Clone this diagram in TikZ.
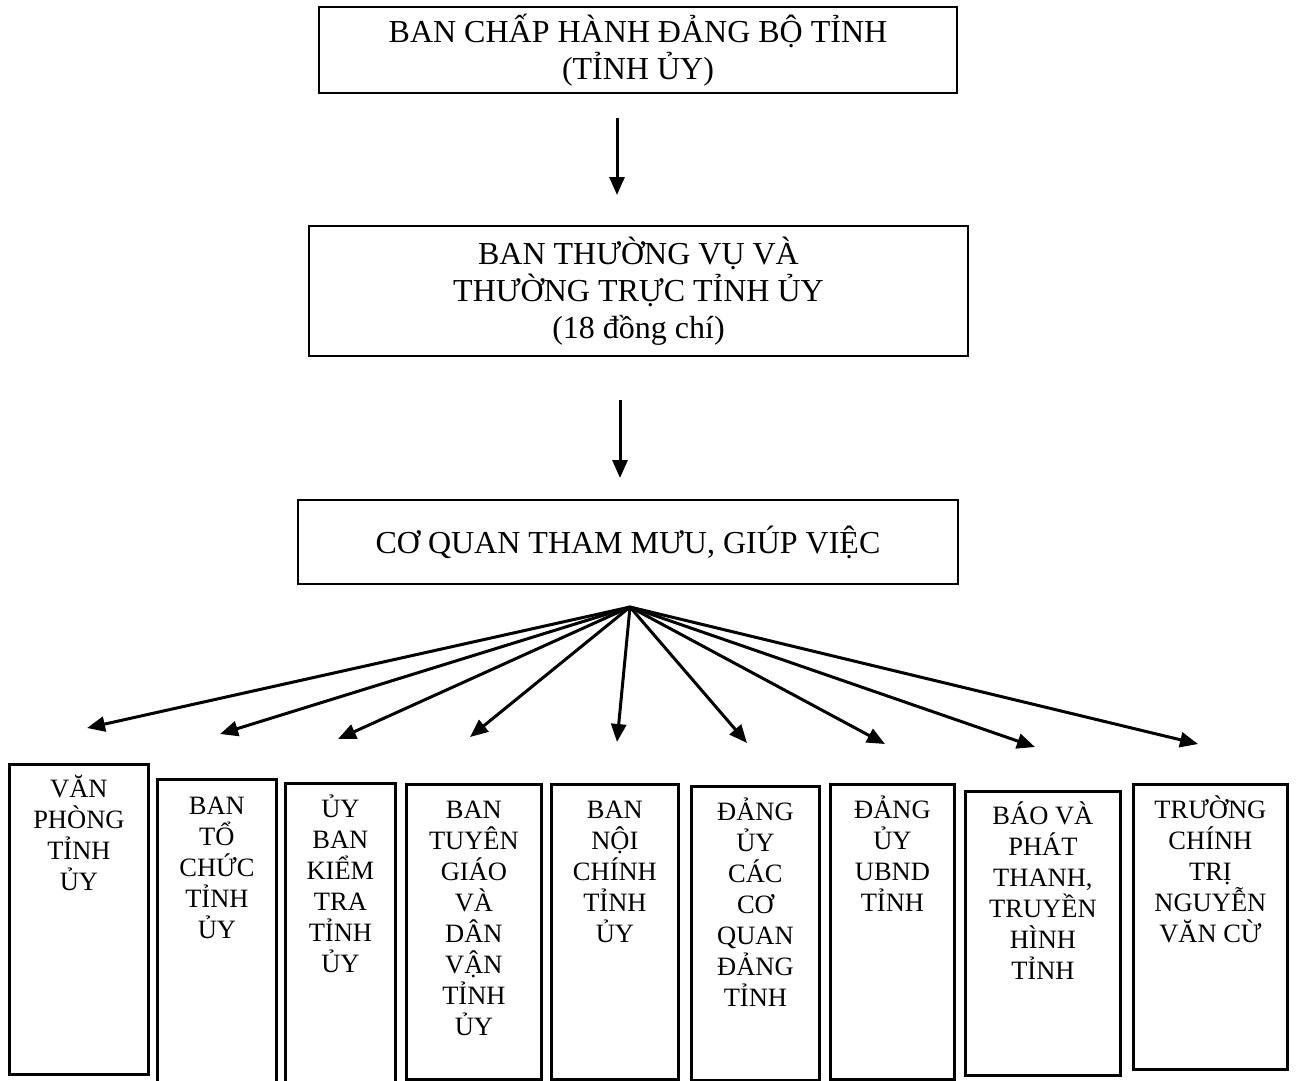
\documentclass[tikz,border=0pt]{standalone}
\usepackage{fontspec}
\setmainfont{Liberation Serif}
\usetikzlibrary{arrows.meta}
\tikzset{
  box/.style={draw, line width=2.8pt, inner sep=0pt},
  toptext/.style={align=center, font=\fontsize{32}{37}\selectfont},
  btext/.style={align=center, inner sep=0pt, font=\fontsize{26.5}{31}\selectfont},
  arr/.style={line width=3pt, -{Triangle[length=18pt,width=15pt]}}
}
\begin{document}
\begin{tikzpicture}[x=1pt,y=-1pt]
\useasboundingbox (0,0) rectangle (1298,1080);
\fill[white] (0,0) rectangle (1298,1080);

% top boxes
\node[box, toptext, minimum width=638pt, minimum height=86pt] (t1) at (638,50) {BAN CHẤP HÀNH ĐẢNG BỘ TỈNH\\(TỈNH ỦY)};
\node[box, toptext, minimum width=659pt, minimum height=130pt] (t2) at (638.5,291) {BAN THƯỜNG VỤ VÀ\\THƯỜNG TRỰC TỈNH ỦY\\(18 đồng chí)};
\node[box, toptext, minimum width=660pt, minimum height=84pt] (t3) at (628,542) {CƠ QUAN THAM MƯU, GIÚP VIỆC};

% vertical arrows
\coordinate (a1s) at (617,118);
\coordinate (a1e) at (617,195);
\draw[arr] (a1s) -- (a1e);
\coordinate (a2s) at (620,400);
\coordinate (a2e) at (620,478);
\draw[arr] (a2s) -- (a2e);

% fan
\coordinate (fan) at (630,607);
\coordinate (f1) at (87,728);
\coordinate (f2) at (220,734);
\coordinate (f3) at (338,739);
\coordinate (f4) at (470,737);
\coordinate (f5) at (617,742);
\coordinate (f6) at (747,743);
\coordinate (f7) at (885,744);
\coordinate (f8) at (1035,747);
\coordinate (f9) at (1198,744);
\foreach \i in {1,...,9} \draw[arr] (fan) -- (f\i);

% bottom boxes (text anchored at the baseline of its last line)
\node[box, anchor=north west, minimum width=139pt, minimum height=310pt] (b1) at (8,763) {};
\node[btext, anchor=base] (b1t) at ([yshift=-127pt]b1.north) {VĂN\\PHÒNG\\TỈNH\\ỦY};

\node[box, anchor=north west, minimum width=119pt, minimum height=310pt] (b2) at (156,778) {};
\node[btext, anchor=base] (b2t) at ([yshift=-160pt]b2.north) {BAN\\TỔ\\CHỨC\\TỈNH\\ỦY};

\node[box, anchor=north west, minimum width=110pt, minimum height=310pt] (b3) at (284,782) {};
\node[btext, anchor=base] (b3t) at ([yshift=-190pt]b3.north) {ỦY\\BAN\\KIỂM\\TRA\\TỈNH\\ỦY};

\node[box, anchor=north west, minimum width=135pt, minimum height=295pt] (b4) at (405,783) {};
\node[btext, anchor=base] (b4t) at ([yshift=-252pt]b4.north) {BAN\\TUYÊN\\GIÁO\\VÀ\\DÂN\\VẬN\\TỈNH\\ỦY};

\node[box, anchor=north west, minimum width=127pt, minimum height=295pt] (b5) at (550,783) {};
\node[btext, anchor=base] (b5t) at ([yshift=-159pt]b5.north) {BAN\\NỘI\\CHÍNH\\TỈNH\\ỦY};

\node[box, anchor=north west, minimum width=128pt, minimum height=294pt] (b6) at (690,785) {};
\node[btext, anchor=base] (b6t) at ([yshift=-221pt]b6.north) {ĐẢNG\\ỦY\\CÁC\\CƠ\\QUAN\\ĐẢNG\\TỈNH};

\node[box, anchor=north west, minimum width=124pt, minimum height=295pt] (b7) at (829,783) {};
\node[btext, anchor=base] (b7t) at ([yshift=-128pt]b7.north) {ĐẢNG\\ỦY\\UBND\\TỈNH};

\node[box, anchor=north west, minimum width=155pt, minimum height=284pt] (b8) at (964,790) {};
\node[btext, anchor=base] (b8t) at ([yshift=-189pt]b8.north) {BÁO VÀ\\PHÁT\\THANH,\\TRUYỀN\\HÌNH\\TỈNH};

\node[box, anchor=north west, minimum width=154pt, minimum height=285pt] (b9) at (1132,783) {};
\node[btext, anchor=base] (b9t) at ([yshift=-159pt]b9.north) {TRƯỜNG\\CHÍNH\\TRỊ\\NGUYỄN\\VĂN CỪ};
\end{tikzpicture}
\end{document}
